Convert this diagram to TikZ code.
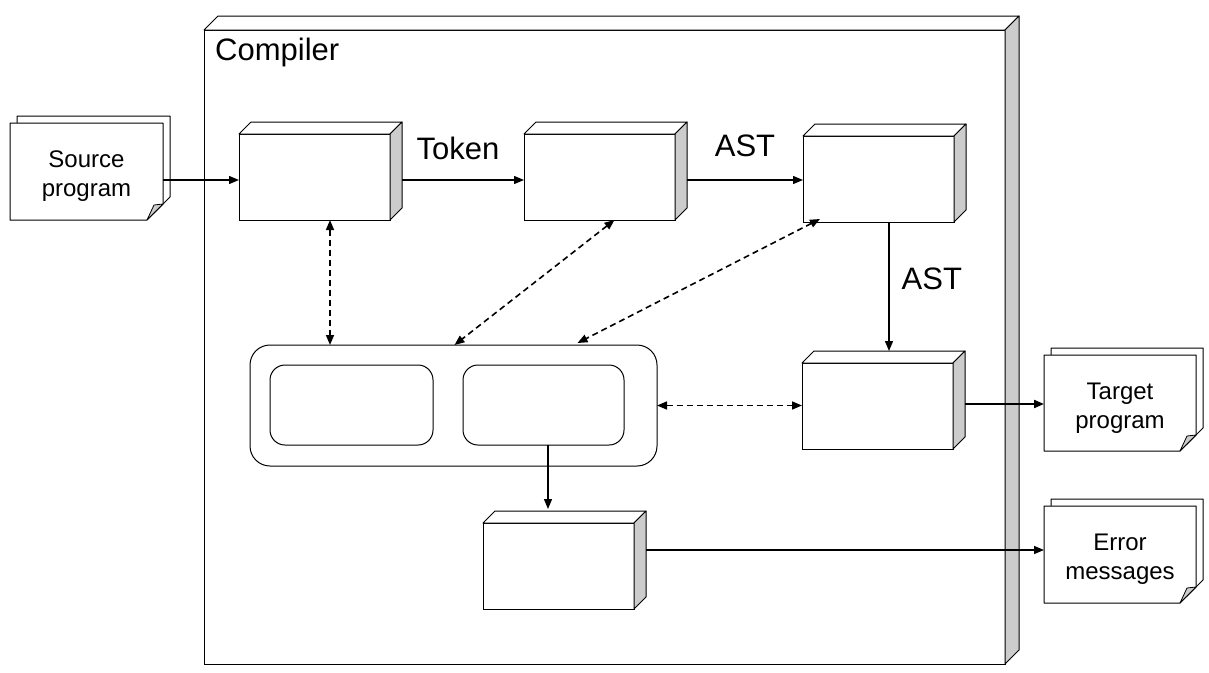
\documentclass[tikz,border=0pt]{standalone}
\usepackage{fontspec}
\setmainfont{Liberation Sans}
\usetikzlibrary{arrows.meta}
\definecolor{sidegray}{HTML}{CCCCCC}
\tikzset{
  face/.style={draw=black, line width=1pt, fill=white, outer sep=0pt, inner sep=0pt},
  proc/.style={face, minimum width=151pt, minimum height=86pt, anchor=north west},
  tip/.tip={Triangle[length=10pt,width=8pt]},
  flow/.style={line width=1.3pt, -tip},
  link/.style={line width=1.6pt, dash pattern=on 6pt off 4pt, tip-tip},
  lbl/.style={font=\fontsize{31}{36}\selectfont, inner sep=0pt},
  doctext/.style={font=\fontsize{24}{29}\selectfont, align=center},
  roundbox/.style={draw=black, line width=1pt, fill=white, outer sep=0pt, inner sep=0pt, anchor=north west},
}
\newcommand\boxdepth[2]{%
  \draw[line width=1pt, fill=white, line join=round] (#1.north west) -- ++(#2,-#2)
     -- ([shift={(#2,-#2)}]#1.north east) -- (#1.north east) -- cycle;
  \draw[line width=1pt, fill=sidegray, line join=round] (#1.north east)
     -- ([shift={(#2,-#2)}]#1.north east) -- ([shift={(#2,-#2)}]#1.south east)
     -- (#1.south east) -- cycle;}
\newcommand\docsheet[6]{% name, x, y, w, h, text
  \begin{scope}[shift={(#2,#3)}]
    \draw[line width=1pt, fill=white, line join=round] (7,-7) -- (#4+7,-7) -- (#4+7,#5-7-16)
       -- (#4+7-16,#5-7) -- (7,#5-7) -- cycle;
    \draw[line width=1pt, fill=white, line join=round] (0,0) -- (#4,0) -- (#4,#5-16)
       -- (#4-16,#5) -- (0,#5) -- cycle;
    \draw[line width=0.8pt, fill=sidegray, line join=round] (#4,#5-16) -- (#4-16,#5) -- (#4-9,#5-15) -- cycle;
    \node[doctext, minimum width=#4pt, minimum height=#5pt, anchor=north west,
          inner sep=0pt, outer sep=0pt, yshift=-5pt] (#1) at (0,0) {#6};
  \end{scope}}
\begin{document}
\begin{tikzpicture}[x=1pt,y=-1pt]
\useasboundingbox (0,0) rectangle (1209,672);
% compiler enclosure
\node[face, minimum width=801pt, minimum height=634pt, anchor=north west] (comp) at (204,30) {};
\boxdepth{comp}{14}
\node[lbl, anchor=base west] (comptitle) at (215,60) {Compiler};

% documents
\docsheet{src}{10}{123}{153}{97}{Source\\program}
\docsheet{tgt}{1044}{355}{152}{96}{Target\\program}
\docsheet{err}{1044}{506}{152}{97}{Error\\messages}

% process boxes
\node[proc] (lex) at (239,134) {};
\boxdepth{lex}{12}
\node[proc] (parse) at (524,134) {};
\boxdepth{parse}{12}
\node[proc] (sem) at (803,136) {};
\boxdepth{sem}{12}
\node[proc] (gen) at (802,363) {};
\boxdepth{gen}{12}
\node[proc] (errh) at (483,523) {};
\boxdepth{errh}{12}

% container with two rounded boxes
\node[roundbox, rounded corners=20pt, minimum width=407pt, minimum height=121pt] (cont) at (250,345) {};
\node[roundbox, rounded corners=15pt, minimum width=163pt, minimum height=80pt] (tabA) at (270,365) {};
\node[roundbox, rounded corners=15pt, minimum width=161pt, minimum height=80pt] (tabB) at (463,365) {};

% helper coordinates
\coordinate (row1) at (0,180);
\coordinate (row2) at (0,404);
\coordinate (row3) at (0,550);
\coordinate (colA) at (889,0);
\coordinate (colB) at (548,0);
\coordinate (colC) at (330,0);
\coordinate (gentop) at ([yshift=12pt]gen.north);
\coordinate (errtop) at ([yshift=14pt]errh.north);

% solid flows
\draw[flow] (src.east |- row1) -- (lex.west |- row1);
\draw[flow] ([xshift=12pt]lex.east |- row1) -- node[lbl, above=20pt, xshift=-5pt] (tok) {Token} (parse.west |- row1);
\draw[flow] ([xshift=12pt]parse.east |- row1) -- node[lbl, above=23pt] (ast1) {AST} (sem.west |- row1);
\draw[flow] (sem.south -| colA) -- node[lbl, right=12pt, pos=0.44] (ast2) {AST} (gentop -| colA);
\draw[flow, line width=2pt] ([xshift=12pt]gen.east |- row2) -- (tgt.west |- row2);
\draw[flow] ([xshift=12pt]errh.east |- row3) -- (err.west |- row3);
\draw[flow] (tabB.south -| colB) -- (errtop -| colB);

% dashed links
\draw[link] (lex.south -| colC) -- (cont.north -| colC);
\draw[link] ([xshift=15pt]parse.south) -- ([xshift=1pt]cont.north);
\draw[link] ([shift={(17pt,3pt)}]sem.south west) -- ([shift={(124pt,2pt)}]cont.north);
\draw[link] (cont.east) -- (gen.west |- cont.east);
\end{tikzpicture}
\end{document}
